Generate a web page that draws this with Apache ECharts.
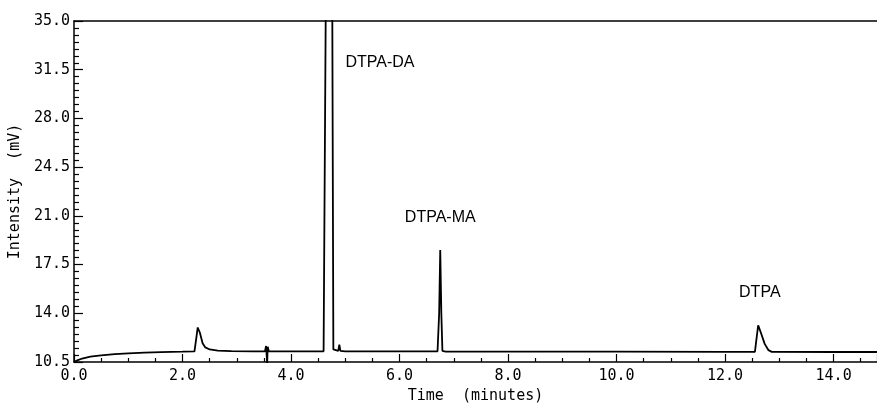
<!DOCTYPE html>
<html>
<head>
<meta charset="utf-8">
<script src="https://cdn.jsdelivr.net/npm/echarts@6/dist/echarts.min.js"></script>
<style>
  html, body { margin: 0; padding: 0; background: #fff; }
  #chart { width: 877px; height: 411px; }
</style>
</head>
<body>
<div id="chart"></div>
<script>
// retention time (minutes) and detector signal (mV)
var timeMin = [
  0.0, 0.05, 0.15, 0.3, 0.5, 0.75, 1.0, 1.3, 1.6, 2.0, 2.22,
  2.26, 2.28, 2.32, 2.37, 2.42, 2.5, 2.65, 2.9, 3.3, 3.52,
  3.54, 3.56, 3.57, 3.59, 4.0, 4.6, 4.62, 4.64, 4.76, 4.78,
  4.8, 4.87, 4.89, 4.91, 5.0, 6.0, 6.7, 6.73, 6.75, 6.77,
  6.79, 6.85, 8.0, 10.0, 12.0, 12.55, 12.58, 12.61, 12.66, 12.73,
  12.8, 12.86, 14.0, 14.8
];
var intensityMv = [
  10.5, 10.6, 10.75, 10.88, 10.98, 11.06, 11.12, 11.17, 11.21, 11.24, 11.26,
  12.4, 12.98, 12.6, 11.85, 11.55, 11.4, 11.32, 11.28, 11.27, 11.27,
  11.65, 10.4, 11.6, 11.27, 11.27, 11.27, 11.35, 36, 36, 11.4,
  11.27, 11.3, 11.75, 11.3, 11.27, 11.26, 11.27, 14.0, 18.55, 14.0,
  11.3, 11.25, 11.24, 11.24, 11.23, 11.23, 12.2, 13.14, 12.6, 11.8,
  11.35, 11.23, 11.22, 11.22
];

// peak labels
var peakNames = ['DTPA-DA', 'DTPA-MA', 'DTPA'];
var peakLabelTime = [5.64, 6.75, 12.64];
var peakLabelMv = [32.0, 20.9, 15.5];

var trace = timeMin.map(function (t, i) { return [t, intensityMv[i]]; });
var labels = peakNames.map(function (n, i) {
  return { name: n, value: [peakLabelTime[i], peakLabelMv[i]] };
});

var mono = 'DejaVu Sans Mono';
var chart = echarts.init(document.getElementById('chart'));
chart.setOption({
  animation: false,
  backgroundColor: '#fff',
  grid: { left: 72, right: 0, top: 21, bottom: 49 },
  xAxis: [{
    type: 'value',
    min: 0,
    max: 14.8,
    interval: 2,
    name: 'Time  (minutes)',
    nameLocation: 'middle',
    nameGap: 27,
    nameTextStyle: { fontFamily: mono, fontSize: 15, color: '#000' },
    axisLine: { lineStyle: { color: '#000', width: 1.5 } },
    axisTick: { inside: true, length: 8, lineStyle: { color: '#000', width: 1.2 } },
    minorTick: { show: true, splitNumber: 4, length: 4, lineStyle: { color: '#000', width: 1.2 } },
    splitLine: { show: false },
    axisLabel: {
      margin: 7, fontFamily: mono, fontSize: 15, color: '#000',
      showMaxLabel: false,
      formatter: function (v) { return v.toFixed(1); }
    }
  }, {
    type: 'value',
    position: 'top',
    min: 0,
    max: 14.8,
    axisLine: { show: true, onZero: false, lineStyle: { color: '#000', width: 1.5 } },
    axisTick: { show: false },
    axisLabel: { show: false },
    splitLine: { show: false }
  }],
  yAxis: {
    type: 'value',
    min: 10.5,
    max: 35,
    interval: 3.5,
    name: 'Intensity  (mV)',
    nameLocation: 'middle',
    nameGap: 44,
    nameTextStyle: { fontFamily: mono, fontSize: 15, color: '#000' },
    axisLine: { show: true, lineStyle: { color: '#000', width: 1.5 } },
    axisTick: { inside: true, length: 9, lineStyle: { color: '#000', width: 1.2 } },
    minorTick: { show: true, splitNumber: 7, length: 5, lineStyle: { color: '#000', width: 1.2 } },
    splitLine: { show: false },
    axisLabel: {
      margin: 4, fontFamily: mono, fontSize: 15, color: '#000',
      formatter: function (v) { return v.toFixed(1); }
    }
  },
  series: [{
    type: 'line',
    data: trace,
    showSymbol: false,
    clip: true,
    lineStyle: { color: '#000', width: 1.8 }
  }, {
    type: 'scatter',
    data: labels,
    symbolSize: 0,
    itemStyle: { opacity: 1 },
    label: {
      show: true,
      position: 'inside',
      formatter: '{b}',
      fontFamily: 'Liberation Sans',
      fontSize: 16,
      color: '#000',
      opacity: 1
    }
  }]
});
</script>
</body>
</html>
